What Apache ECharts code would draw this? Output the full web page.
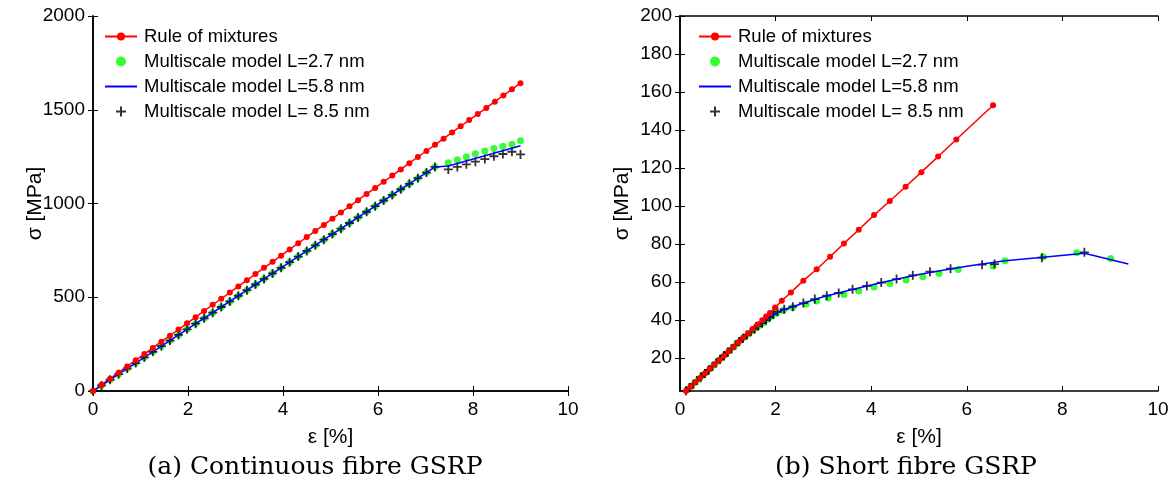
<!DOCTYPE html>
<html>
<head>
<meta charset="utf-8">
<script src="https://cdn.jsdelivr.net/npm/echarts@6/dist/echarts.min.js"></script>
<style>
  html, body { margin: 0; padding: 0; background: #fff; }
  #chart { width: 1175px; height: 490px; }
</style>
</head>
<body>
<div id="chart"></div>
<script>
// ---- (a) continuous fibre: strain [%] and stress [MPa] ----
const aRuleX = [0, 0.18, 0.36, 0.54, 0.72, 0.9, 1.08, 1.26, 1.44, 1.62, 1.8, 1.98, 2.16, 2.34, 2.52, 2.7, 2.88, 3.06, 3.24, 3.42, 3.6, 3.78, 3.96, 4.14, 4.32, 4.5, 4.68, 4.86, 5.04, 5.22, 5.4, 5.58, 5.76, 5.94, 6.12, 6.3, 6.48, 6.66, 6.84, 7.02, 7.2, 7.38, 7.56, 7.74, 7.92, 8.1, 8.28, 8.46, 8.64, 8.82, 9.0]
const aRuleY = [0, 33, 66, 98, 131, 164, 197, 230, 263, 295, 328, 361, 394, 427, 460, 492, 525, 558, 591, 624, 657, 689, 722, 755, 788, 821, 854, 886, 919, 952, 985, 1018, 1051, 1083, 1116, 1149, 1182, 1215, 1248, 1280, 1313, 1346, 1379, 1412, 1445, 1477, 1510, 1543, 1576, 1609, 1642]

// linear part shared by the three multiscale curves
const aLinX = [0, 0.18, 0.36, 0.54, 0.72, 0.9, 1.08, 1.26, 1.44, 1.62, 1.8, 1.98, 2.16, 2.34, 2.52, 2.7, 2.88, 3.06, 3.24, 3.42, 3.6, 3.78, 3.96, 4.14, 4.32, 4.5, 4.68, 4.86, 5.04, 5.22, 5.4, 5.58, 5.76, 5.94, 6.12, 6.3, 6.48, 6.66, 6.84, 7.02, 7.2]
const aLinY = [0, 30, 60, 90, 120, 149, 179, 209, 239, 269, 299, 329, 359, 388, 418, 448, 478, 508, 538, 568, 598, 627, 657, 687, 717, 747, 777, 807, 837, 866, 896, 926, 956, 986, 1016, 1046, 1076, 1105, 1135, 1165, 1195]
// after the knee
const aTailX = [7.48, 7.67, 7.86, 8.05, 8.25, 8.44, 8.63, 8.82, 9.0]
const aL27Tail = [1218, 1234, 1250, 1266, 1280, 1294, 1305, 1316, 1335]
const aL85Tail = [1182, 1195, 1209, 1223, 1237, 1252, 1264, 1276, 1262]
const aL58TailX = [7.48, 9.0]
const aL58Tail = [1200, 1308]

// ---- (b) short fibre ----
const bRuleX = [0.125, 0.22, 0.32, 0.42, 0.52, 0.62, 0.72, 0.82, 0.92, 1.02, 1.12, 1.22, 1.32, 1.42, 1.52, 1.62, 1.72, 1.8, 1.88, 1.99, 2.13, 2.32, 2.58, 2.86, 3.14, 3.43, 3.74, 4.06, 4.39, 4.72, 5.05, 5.4, 5.78, 6.55]
const bRuleY = [2.6, 4.8, 7.2, 9.5, 11.8, 14.2, 16.5, 18.9, 21.2, 23.5, 25.9, 28.2, 30.6, 32.9, 35.2, 37.6, 39.9, 41.8, 43.7, 46.5, 50.1, 54.5, 60.7, 66.7, 73.3, 80.3, 87.5, 95.2, 102.6, 110.1, 117.8, 126, 135, 153]

const bL27X = [0.15, 0.23, 0.31, 0.39, 0.47, 0.55, 0.63, 0.71, 0.79, 0.87, 0.95, 1.03, 1.11, 1.19, 1.27, 1.35, 1.43, 1.51, 1.59, 1.67, 1.75, 1.83, 1.92, 2.02, 2.16, 2.36, 2.64, 2.86, 3.1, 3.43, 3.74, 4.06, 4.39, 4.73, 5.08, 5.42, 5.82, 6.55, 6.8, 7.6, 8.3, 9.01]
const bL27Y = [3.2, 5.1, 6.9, 8.8, 10.7, 12.5, 14.4, 16.3, 18.2, 20.0, 21.9, 23.8, 25.6, 27.5, 29.3, 31.0, 32.6, 34.2, 35.7, 37.2, 38.7, 40.2, 41.9, 43.6, 45.0, 46.6, 48.4, 50.0, 51.6, 53.4, 55.3, 57.3, 59.2, 61.0, 62.8, 64.5, 66.5, 68.4, 71.2, 73.3, 75.4, 72.4]

const bL58X = [0.125, 1.24, 1.5, 1.88, 2.1, 2.4, 3.0, 3.5, 4.0, 4.5, 5.0, 5.5, 6.0, 6.8, 7.6, 8.46, 9.38]
const bL58Y = [2.6, 28.7, 34.2, 41.5, 44.8, 47.3, 52.2, 55.4, 58.4, 61.3, 63.9, 66.2, 68.3, 71.2, 73.0, 75.1, 69.4]

const bL85X = [0.125, 0.2, 0.28, 0.36, 0.44, 0.52, 0.6, 0.68, 0.76, 0.84, 0.92, 1.0, 1.08, 1.16, 1.24, 1.32, 1.4, 1.48, 1.56, 1.64, 1.72, 1.8, 1.88, 1.95, 2.04, 2.18, 2.36, 2.58, 2.82, 3.07, 3.32, 3.61, 3.91, 4.21, 4.53, 4.87, 5.23, 5.66, 6.32, 6.58, 7.57, 8.46]
const bL85Y = [2.6, 4.4, 6.2, 8.1, 10.0, 11.8, 13.7, 15.6, 17.5, 19.3, 21.2, 23.1, 24.9, 26.8, 28.7, 30.4, 32.1, 33.8, 35.3, 36.8, 38.3, 39.9, 41.4, 43.0, 44.3, 45.6, 47.0, 48.9, 51.0, 52.8, 54.2, 56.1, 57.9, 59.7, 61.5, 63.5, 65.4, 67.0, 69.1, 69.4, 72.8, 75.6]

const bYTicks = [20, 40, 60, 80, 100, 120, 140, 160, 180, 200]

const names = ['Rule of mixtures', 'Multiscale model L=2.7 nm', 'Multiscale model L=5.8 nm', 'Multiscale model L= 8.5 nm']

const zip = (xs, ys) => xs.map((x, i) => [x, ys[i]])

const chart = echarts.init(document.getElementById('chart'))

const FONT = 'Liberation Sans'
const PLUS = 'path://M4,0H6V4H10V6H6V10H4V6H0V4H4Z'

// one box (4 axes) per panel
function axesFor(grid, xCfg, yCfg) {
  const line = { show: true, lineStyle: { color: '#000', width: 1.6 } }
  const tick = { show: true, inside: true, length: 5, lineStyle: { color: '#000', width: 1 } }
  const label = { color: '#000', fontSize: 19, fontFamily: FONT }
  const nameStyle = { color: '#000', fontSize: 21, fontFamily: FONT }
  return {
    x: [
      { type: 'value', gridIndex: grid, position: 'bottom', ...xCfg, axisLine: line, axisTick: tick,
        axisLabel: { ...label, margin: 9 }, splitLine: { show: false },
        name: 'ε [%]', nameLocation: 'middle', nameGap: 36, nameTextStyle: nameStyle },
      { type: 'value', gridIndex: grid, position: 'top', ...xCfg, axisLine: line, axisTick: tick,
        axisLabel: { show: false }, splitLine: { show: false } }
    ],
    y: [
      { type: 'value', gridIndex: grid, position: 'left', ...yCfg.main, axisLine: line,
        axisTick: { ...tick, ...(yCfg.ticks ? { customValues: yCfg.ticks } : {}) },
        axisLabel: { ...label, margin: 8, formatter: v => String(v), ...(yCfg.ticks ? { customValues: yCfg.ticks } : {}) },
        splitLine: { show: false },
        name: 'σ [MPa]', nameLocation: 'middle', nameGap: yCfg.nameGap, nameMoveOverlap: false, nameTextStyle: nameStyle },
      { type: 'value', gridIndex: grid, position: 'right', ...yCfg.main, axisLine: line,
        axisTick: { ...tick, ...(yCfg.ticks ? { customValues: yCfg.ticks } : {}) },
        axisLabel: { show: false }, splitLine: { show: false } }
    ]
  }
}

const A = axesFor(0, { min: 0, max: 10, interval: 2 }, { main: { min: 0, max: 2000, interval: 500 }, nameGap: 47 })
const B = axesFor(1, { min: 0, max: 10, interval: 2 }, { main: { min: 2.6, max: 200 }, ticks: bYTicks, nameGap: 47 })

function panelSeries(xi, yi, rule, l27, l58, l85) {
  return [
    { name: names[0], type: 'line', xAxisIndex: xi, yAxisIndex: yi, data: rule, symbol: 'circle', symbolSize: 6,
      itemStyle: { color: '#ff0000' }, lineStyle: { color: '#ff0000', width: 1.5 }, animation: false },
    { name: names[1], type: 'scatter', xAxisIndex: xi, yAxisIndex: yi, data: l27, symbol: 'circle', symbolSize: 7,
      itemStyle: { color: '#00ff00' }, animation: false },
    { name: names[2], type: 'line', xAxisIndex: xi, yAxisIndex: yi, data: l58, symbol: 'none',
      lineStyle: { color: '#0000ff', width: 1.5 }, itemStyle: { color: '#0000ff' }, animation: false },
    { name: names[3], type: 'scatter', xAxisIndex: xi, yAxisIndex: yi, data: l85, symbol: PLUS, symbolSize: 9,
      itemStyle: { color: '#000' }, animation: false }
  ]
}

const legendBase = {
  orient: 'vertical', top: 22, itemWidth: 32, itemHeight: 10, itemGap: 6, selectedMode: false,
  textStyle: { color: '#000', fontSize: 18.5, fontFamily: FONT, lineHeight: 19, padding: [0, 0, 0, 2] },
  // blue model is a plain line, so hide the dot in its legend icon
  data: [names[0], names[1], { name: names[2], itemStyle: { opacity: 0 } }, names[3]]
}

const option = {
  backgroundColor: '#fff',
  grid: [
    { left: 93, right: 607, top: 16, bottom: 99 },
    { left: 680, right: 17, top: 16, bottom: 99 }
  ],
  xAxis: [...A.x, ...B.x],
  yAxis: [...A.y, ...B.y],
  legend: [
    { ...legendBase, left: 99 },
    { ...legendBase, left: 693 }
  ],
  series: [
    ...panelSeries(0, 0, zip(aRuleX, aRuleY), zip(aLinX.concat(aTailX), aLinY.concat(aL27Tail)),
      zip(aLinX.concat(aL58TailX), aLinY.concat(aL58Tail)), zip(aLinX.concat(aTailX), aLinY.concat(aL85Tail))),
    ...panelSeries(2, 2, zip(bRuleX, bRuleY), zip(bL27X, bL27Y), zip(bL58X, bL58Y), zip(bL85X, bL85Y))
  ],
  // sub captions under each panel
  graphic: [
    { type: 'text', x: 315, y: 467, style: { text: '(a) Continuous fibre GSRP', fill: '#000',
      font: '25px "DejaVu Serif"', align: 'center', verticalAlign: 'middle' } },
    { type: 'text', x: 906, y: 467, style: { text: '(b) Short fibre GSRP', fill: '#000',
      font: '25px "DejaVu Serif"', align: 'center', verticalAlign: 'middle' } }
  ]
}

chart.setOption(option)
</script>
</body>
</html>
